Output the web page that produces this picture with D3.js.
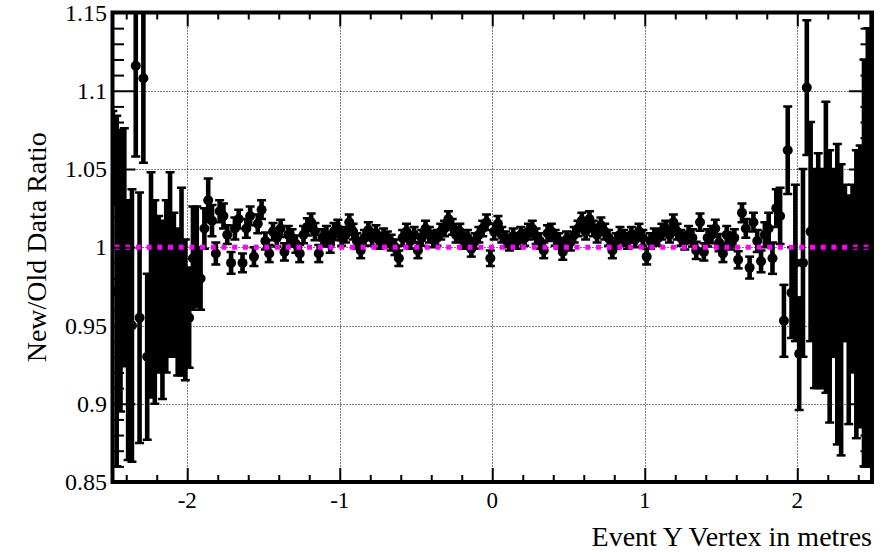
<!DOCTYPE html>
<html><head><meta charset="utf-8">
<script src="https://cdn.jsdelivr.net/npm/d3@7/dist/d3.min.js"></script>
<style>body{margin:0;background:#fff} svg{display:block}</style>
</head><body><svg id="c" width="887" height="552"></svg>
<script>
// ---- data ----
const binLow = -2.5, binWidth = 0.025;
const ratio = [
 1.057,0.972,0.985,1.000,0.947,0.950,1.116,0.955,1.108,0.930,
 0.976,0.965,0.970,0.960,0.975,0.989,0.976,0.965,0.978,0.960,
 0.955,0.993,0.994,0.980,1.012,1.030,1.017,0.996,1.023,1.020,
 1.008,0.990,1.012,1.018,0.990,1.012,1.020,0.994,1.015,1.024,
 1.004,0.996,1.010,1.006,1.012,0.997,1.008,1.006,1.002,0.996,
 1.008,1.013,1.016,1.010,0.996,1.006,1.008,1.002,1.010,1.012,
 1.006,1.008,1.016,1.010,1.004,0.998,1.006,1.011,1.006,1.009,
 1.004,1.007,1.005,1.003,1.000,0.993,1.006,1.010,1.004,1.008,
 0.998,1.006,1.012,1.008,1.005,1.006,1.010,1.012,1.018,1.013,
 1.008,1.010,1.004,1.006,0.999,1.004,1.008,1.012,1.016,0.993,
 1.010,1.015,1.008,1.005,1.003,1.007,1.004,1.008,1.006,1.010,
 1.012,1.007,1.004,0.998,1.009,1.010,1.006,1.004,0.997,1.005,
 1.003,1.008,1.012,1.017,1.010,1.018,1.012,1.008,1.014,1.010,
 1.006,0.998,1.004,1.008,1.006,1.004,1.008,1.005,1.010,1.006,
 0.994,1.004,1.007,1.006,1.010,1.012,1.008,1.016,1.010,1.006,
 1.004,1.008,1.006,0.998,1.016,0.997,1.006,1.008,1.012,1.003,
 0.996,1.008,1.004,1.006,0.992,1.022,1.012,0.987,1.016,1.004,
 0.991,1.008,1.012,0.993,1.025,1.020,0.953,1.062,0.971,0.990,
 0.932,0.990,1.102,1.010,0.980,0.985,0.980,1.000,0.975,0.990,
 0.970,0.960,0.990,0.960,0.980,0.970,0.975,0.990,1.000,1.020
];
const ratioErr = [
 0.030,0.112,0.090,0.076,0.083,0.087,0.058,0.080,0.054,0.053,
 0.072,0.065,0.050,0.057,0.055,0.059,0.046,0.047,0.060,0.045,
 0.032,0.033,0.032,0.020,0.013,0.014,0.010,0.007,0.007,0.008,
 0.006,0.007,0.007,0.006,0.006,0.006,0.006,0.006,0.006,0.006,
 0.0055,0.0055,0.0055,0.0055,0.0055,0.0055,0.0055,0.0055,0.0055,0.0055,
 0.0055,0.0055,0.0055,0.0055,0.0055,0.0055,0.0055,0.0055,0.0055,0.0055,
 0.005,0.005,0.005,0.005,0.005,0.005,0.005,0.005,0.005,0.005,
 0.005,0.005,0.005,0.005,0.005,0.005,0.005,0.005,0.005,0.005,
 0.005,0.005,0.005,0.005,0.005,0.005,0.005,0.005,0.005,0.005,
 0.005,0.005,0.005,0.005,0.005,0.005,0.005,0.005,0.005,0.005,
 0.005,0.005,0.005,0.005,0.005,0.005,0.005,0.005,0.005,0.005,
 0.005,0.005,0.005,0.005,0.005,0.005,0.005,0.005,0.005,0.005,
 0.005,0.005,0.005,0.005,0.005,0.005,0.005,0.005,0.005,0.005,
 0.005,0.005,0.005,0.005,0.005,0.005,0.005,0.005,0.005,0.005,
 0.005,0.005,0.005,0.005,0.005,0.005,0.005,0.005,0.005,0.005,
 0.0055,0.0055,0.0055,0.0055,0.0055,0.0055,0.0055,0.0055,0.0055,0.0055,
 0.0055,0.0055,0.0055,0.0055,0.0055,0.006,0.006,0.007,0.006,0.007,
 0.007,0.008,0.010,0.010,0.012,0.018,0.023,0.028,0.029,0.050,
 0.036,0.060,0.043,0.070,0.070,0.075,0.070,0.093,0.087,0.060,
 0.096,0.093,0.050,0.073,0.060,0.092,0.090,0.130,0.140,0.130
];
const xTickValues = [-2, -1, 0, 1, 2];
const xTickLabels = ["-2", "-1", "0", "1", "2"];
const yTickValues = [0.85, 0.9, 0.95, 1, 1.05, 1.1, 1.15];
const yTickLabels = ["0.85", "0.9", "0.95", "1", "1.05", "1.1", "1.15"];
const refValue = 1;
const xTitle = "Event Y Vertex in metres";
const yTitle = "New/Old Data Ratio";

// ---- drawing ----
const svg = d3.select("#c");
const fr = {l:112.5, r:872, t:12.5, b:482};
const x = d3.scaleLinear().domain([-2.49, 2.49]).range([fr.l, fr.r]);
const y = d3.scaleLinear().domain([0.85, 1.15]).range([fr.b, fr.t]);
const font = "Liberation Serif, Times New Roman, serif";

const pts = ratio.map((v,i)=>({xv: binLow + binWidth*(i+0.5), v, e: ratioErr[i]}));

const xMinor = d3.range(-24, 25, 2).map(d=>d/10).filter(d=>Math.abs(d-Math.round(d))>1e-6);
const yMinor = d3.range(86, 115).map(d=>d/100).filter(d=>Math.abs(d*20-Math.round(d*20))>1e-6);

// grid
const grid = svg.append("g").attr("stroke","#000").attr("stroke-width",1).attr("stroke-dasharray","1,2");
grid.selectAll(".gx").data(xTickValues).join("line")
  .attr("x1",d=>Math.round(x(d))+0.5).attr("x2",d=>Math.round(x(d))+0.5).attr("y1",fr.t).attr("y2",fr.b);
grid.selectAll(".gy").data(yTickValues.filter(d=>d>0.85&&d<1.15)).join("line")
  .attr("y1",d=>Math.round(y(d))+0.5).attr("y2",d=>Math.round(y(d))+0.5).attr("x1",fr.l).attr("x2",fr.r);

// clip
svg.append("clipPath").attr("id","fc").append("rect")
  .attr("x",fr.l).attr("y",fr.t).attr("width",fr.r-fr.l).attr("height",fr.b-fr.t);
const data = svg.append("g").attr("clip-path","url(#fc)");
data.selectAll(".eb").data(pts).join("line")
  .attr("x1",d=>x(d.xv)).attr("x2",d=>x(d.xv))
  .attr("y1",d=>y(d.v+d.e)).attr("y2",d=>y(d.v-d.e))
  .attr("stroke","#000").attr("stroke-width",4.6);
data.selectAll(".cap").data(pts.flatMap(d=>[d.v+d.e,d.v-d.e].map(yy=>({xv:d.xv,yy})))).join("line")
  .attr("x1",d=>x(d.xv)-4.5).attr("x2",d=>x(d.xv)+4.5)
  .attr("y1",d=>y(d.yy)).attr("y2",d=>y(d.yy))
  .attr("stroke","#000").attr("stroke-width",2.5);
data.selectAll("circle").data(pts).join("circle")
  .attr("cx",d=>x(d.xv)).attr("cy",d=>y(d.v)).attr("r",5).attr("fill","#000");

// reference line
svg.append("line").attr("x1",fr.l+2).attr("x2",fr.r-2).attr("y1",y(refValue)).attr("y2",y(refValue))
  .attr("stroke","#ff00ff").attr("stroke-width",5).attr("stroke-dasharray","5,5.7");

// axes (ticks inside the frame)
function ax(gen, tr, vals, size){
  const g = svg.append("g").attr("transform",tr)
    .call(gen.tickValues(vals).tickSize(size).tickFormat(""));
  g.select(".domain").remove();
  g.selectAll("line").attr("stroke","#000").attr("stroke-width",2);
  return g;
}
ax(d3.axisBottom(x), `translate(0,${fr.b})`, xTickValues, -14);
ax(d3.axisBottom(x), `translate(0,${fr.b})`, xMinor, -7);
ax(d3.axisTop(x), `translate(0,${fr.t})`, xTickValues, -14);
ax(d3.axisTop(x), `translate(0,${fr.t})`, xMinor, -7);
ax(d3.axisLeft(y), `translate(${fr.l},0)`, yTickValues, -23);
ax(d3.axisLeft(y), `translate(${fr.l},0)`, yMinor, -11.5);
ax(d3.axisRight(y), `translate(${fr.r},0)`, yTickValues, -23);
ax(d3.axisRight(y), `translate(${fr.r},0)`, yMinor, -11.5);

// frame
svg.append("rect").attr("x",fr.l).attr("y",fr.t).attr("width",fr.r-fr.l).attr("height",fr.b-fr.t)
  .attr("fill","none").attr("stroke","#000").attr("stroke-width",4);

// tick labels
svg.append("g").selectAll("text").data(xTickValues).join("text")
  .attr("x",d=>x(d)).attr("y",508).attr("text-anchor","middle")
  .attr("font-family",font).attr("font-size",23).attr("fill","#000")
  .text((d,i)=>xTickLabels[i]);
svg.append("g").selectAll("text").data(yTickValues).join("text")
  .attr("x",107).attr("y",d=>y(d)+8).attr("text-anchor","end")
  .attr("font-family",font).attr("font-size",24).attr("fill","#000")
  .text((d,i)=>yTickLabels[i]);

// titles
svg.append("text").attr("x",872).attr("y",546).attr("text-anchor","end")
  .attr("font-family",font).attr("font-size",28).attr("fill","#000").text(xTitle);
svg.append("text").attr("transform",`translate(46,${(fr.t+fr.b)/2}) rotate(-90)`).attr("text-anchor","middle")
  .attr("font-family",font).attr("font-size",28).attr("fill","#000").text(yTitle);
</script></body></html>
